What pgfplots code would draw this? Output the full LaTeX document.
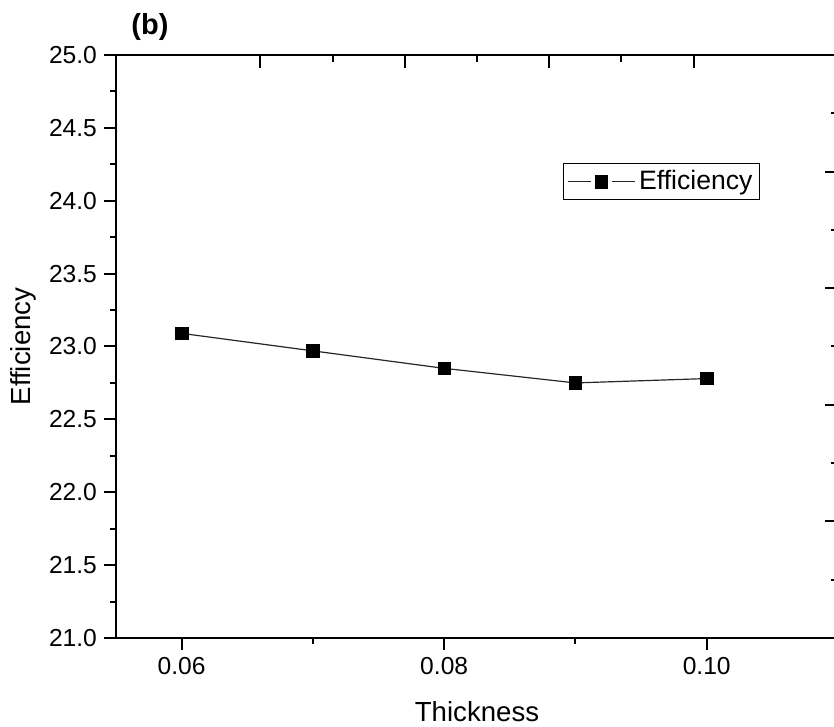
\documentclass[border=0pt]{standalone}
\usepackage{pgfplots}
\pgfplotsset{compat=1.18}
\usepackage{fontspec}
\setmainfont{Liberation Sans}
\begin{document}
\begin{tikzpicture}
% the reference is cut off at its right edge
\useasboundingbox (-58pt,-44.5pt) rectangle (359pt,319pt);
\clip (-58pt,-44.5pt) rectangle (359pt,319pt);
\begin{axis}[
  at={(0pt,0pt)}, anchor=south west,
  scale only axis, width=361pt, height=291.5pt,
  xmin=0.055, xmax=0.11, ymin=21, ymax=25,
  axis x line*=bottom, axis y line*=left,
  axis line style={line width=1pt,-},
  xtick={0.06,0.08,0.10}, minor x tick num=1,
  ytick={21,21.5,22,22.5,23,23.5,24,24.5,25}, minor y tick num=1,
  tick align=outside,
  major tick length=6pt, minor tick length=3pt,
  tick style={line width=1pt,black},
  scaled x ticks=false, scaled y ticks=false,
  ticklabel style={font=\fontsize{12.3}{13}\selectfont},
  /pgf/number format/assume math mode=true,
  xticklabel style={/pgf/number format/fixed,/pgf/number format/fixed zerofill,/pgf/number format/precision=2},
  yticklabel style={/pgf/number format/fixed,/pgf/number format/fixed zerofill,/pgf/number format/precision=1},
  xlabel={Thickness}, ylabel={Efficiency},
  label style={font=\fontsize{13.8}{14}\selectfont},
  xlabel style={at={(axis description cs:0.5,-0.1269)}, anchor=center},
  ylabel style={at={(axis description cs:-0.1288,0.5)}, anchor=center},
  title={\bfseries (b)},
  title style={at={(axis description cs:0.047,1.027)}, anchor=center, font=\fontsize{14.5}{15}\selectfont},
  legend style={at={(axis description cs:0.892,0.8148)}, anchor=north east,
    draw=black, line width=0.5pt, inner sep=1.5pt,
    font=\fontsize{13.3}{13}\selectfont},
  legend image code/.code={
    \draw[#1, mark=none] (0pt,0pt) -- (11.5pt,0pt);
    \draw[#1, mark=none] (22pt,0pt) -- (33.5pt,0pt);
    \draw[#1] plot coordinates {(16.75pt,0pt)};
  },
]
\addplot[draw=black!85, line width=0.6pt, mark=square*, mark size=3.1pt,
  mark options={fill=black, draw=black, line width=0.3pt}]
  coordinates {(0.06,23.09) (0.07,22.97) (0.08,22.85) (0.09,22.75) (0.10,22.78)};
\legend{Efficiency}
\end{axis}
% second (twin) axis: top and right ticks only
\begin{axis}[
  at={(0pt,0pt)}, anchor=south west,
  scale only axis, width=361pt, height=291.5pt,
  xmin=0, xmax=5, ymin=0, ymax=5,
  axis x line*=top, axis y line*=right,
  axis line style={line width=1pt,-},
  xtick={1,2,3,4}, minor x tick num=1,
  ytick={0,1,2,3,4,5}, minor y tick num=1,
  tick align=inside,
  major tick length=6.3pt, minor tick length=3.3pt,
  tick style={line width=1pt,black},
  xticklabels={}, yticklabels={},
]
\end{axis}
\end{tikzpicture}
\end{document}
